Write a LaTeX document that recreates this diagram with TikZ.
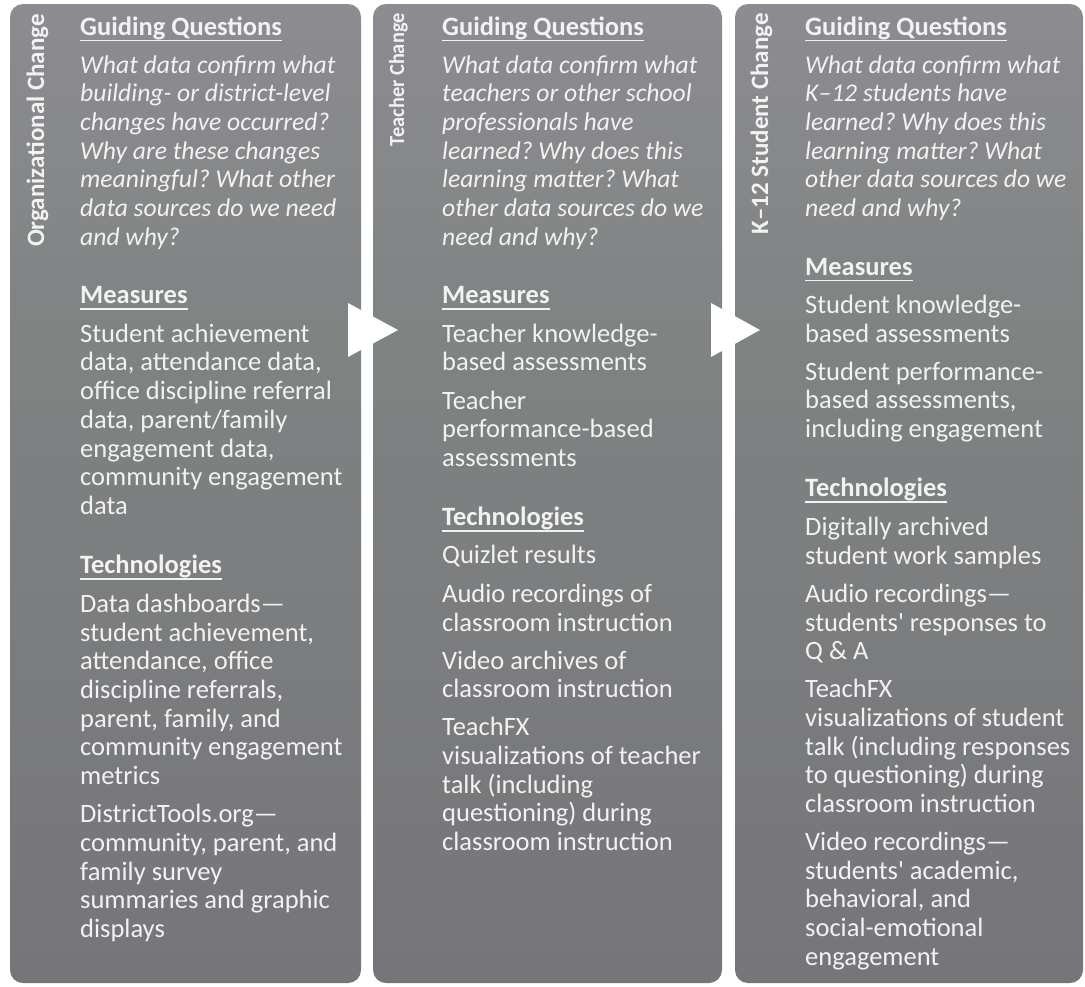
\documentclass[tikz,border=0pt]{standalone}
\usepackage{fontspec}
\setmainfont{Carlito}
\definecolor{ptop}{RGB}{141,140,145}
\definecolor{pmid}{RGB}{127,131,130}
\definecolor{pbot}{RGB}{118,117,122}
\definecolor{txt}{RGB}{242,242,242}
\pgfdeclareverticalshading{panelshade}{100bp}{color(0bp)=(pbot); color(25bp)=(pbot); color(58bp)=(pmid); color(75bp)=(ptop); color(100bp)=(ptop)}
\tikzset{
  panel/.style={shade, shading=panelshade, rounded corners=13pt, inner sep=0pt, draw=none},
  item/.style={anchor=base west, inner sep=0pt, text=txt},
  ques/.style={item, font=\fontsize{25.6}{28.7}\selectfont\itshape},
  head/.style={item, font=\bfseries},
  side/.style={anchor=base east, inner sep=0pt, text=txt, font=\fontsize{25}{28}\selectfont\bfseries, rotate=90},
  uline/.style={draw=txt, line width=1.6pt},
  flow/.style={fill=white, draw=none}
}
% a run of text lines, one node per line: style, prefix, x, first baseline, lines
\newcommand\txtblock[5]{%
  \foreach \t [count=\i] in {#5} {\node[#1] (#2-\i) at (#3, {#4+(\i-1)*28.7}) {\t};}}
% an underlined section heading
\newcommand\sechead[4]{%
  \node[head] (#1) at (#2,#3) {#4};
  \draw[uline] ([yshift=-5.5pt]#1.base west) -- ([yshift=-5.5pt]#1.base east);}
\begin{document}
\frenchspacing
\fontsize{26.5}{28.7}\selectfont
\begin{tikzpicture}[x=1pt, y=-1pt]
\useasboundingbox (0,0) rectangle (1085,986);

% the three stage panels
\node[panel, minimum width=351pt, minimum height=979pt] (p1) at (185.5,493.5) {};
\node[panel, minimum width=349pt, minimum height=979pt] (p2) at (547.5,493.5) {};
\node[panel, minimum width=348pt, minimum height=979pt] (p3) at (909,493.5) {};

% arrows between the stages
\coordinate (a1) at (348,303);
\fill[flow] (a1) -- ++(50,27) -- ++(-50,27) -- cycle;
\coordinate (a2) at (711,303);
\fill[flow] (a2) -- ++(49,27) -- ++(-49,27) -- cycle;

% stage titles
\node[side] (s1) at (44,14) {Organizational Change};
\node[side, font=\fontsize{21.5}{26}\selectfont\bfseries] (s2) at (404,13) {\scalebox{0.95}[1]{Teacher Change}};
\node[side] (s3) at (768,13) {K\textendash12 Student Change};

% ---- Organizational Change ----
\sechead{g1}{80}{35}{Guiding Questions}
\txtblock{ques}{q1}{80}{73}{What data confirm what, building- or district-level, changes have occurred?, Why are these changes, meaningful? What other, data sources do we need, and why?}
\sechead{m1}{80}{303.5}{Measures}
\txtblock{item}{m1a}{80}{342.2}{Student achievement, {data, attendance data,}, office discipline referral, {data, parent/family}, {engagement data,}, community engagement, data}
\sechead{t1}{80}{573.5}{Technologies}
\txtblock{item}{t1a}{80}{612.4}{Data dashboards\textemdash, {student achievement,}, {attendance, office}, {discipline referrals,}, {parent, family, and}, community engagement, metrics}
\txtblock{item}{t1b}{80}{822.6}{DistrictTools.org\textemdash, {community, parent, and}, family survey, summaries and graphic, displays}

% ---- Teacher Change ----
\sechead{g2}{442}{35}{Guiding Questions}
\txtblock{ques}{q2}{442}{73}{What data confirm what, teachers or other school, professionals have, learned? Why does this, learning matter? What, other data sources do we, need and why?}
\sechead{m2}{442}{303.5}{Measures}
\txtblock{item}{m2a}{442}{342.2}{Teacher knowledge-, based assessments}
\txtblock{item}{m2b}{442}{409}{Teacher, performance-based, assessments}
\sechead{t2}{442}{525.5}{Technologies}
\txtblock{item}{t2a}{442}{563.4}{Quizlet results}
\txtblock{item}{t2b}{442}{602.4}{Audio recordings of, classroom instruction}
\txtblock{item}{t2c}{442}{669.1}{Video archives of, classroom instruction}
\txtblock{item}{t2d}{442}{735.8}{TeachFX, visualizations of teacher, talk (including, questioning) during, classroom instruction}

% ---- K-12 Student Change ----
\sechead{g3}{805}{35}{Guiding Questions}
\txtblock{ques}{q3}{805}{73}{What data confirm what, K\textendash12 students have, learned? Why does this, learning matter? What, other data sources do we, need and why?}
\sechead{m3}{805}{275}{Measures}
\txtblock{item}{m3a}{805}{313.5}{Student knowledge-, based assessments}
\txtblock{item}{m3b}{805}{380.2}{Student performance-, {based assessments,}, including engagement}
\sechead{t3}{805}{496.5}{Technologies}
\txtblock{item}{t3a}{805}{535.6}{Digitally archived, student work samples}
\txtblock{item}{t3b}{805}{602.3}{Audio recordings\textemdash, students\textquotesingle\ responses to, Q \& A}
\txtblock{item}{t3c}{805}{697.7}{TeachFX, visualizations of student, talk (including responses, to questioning) during, classroom instruction}
\txtblock{item}{t3d}{805}{850.5}{Video recordings\textemdash, {students\textquotesingle\ academic,}, {behavioral, and}, social-emotional, engagement}
\end{tikzpicture}
\end{document}
